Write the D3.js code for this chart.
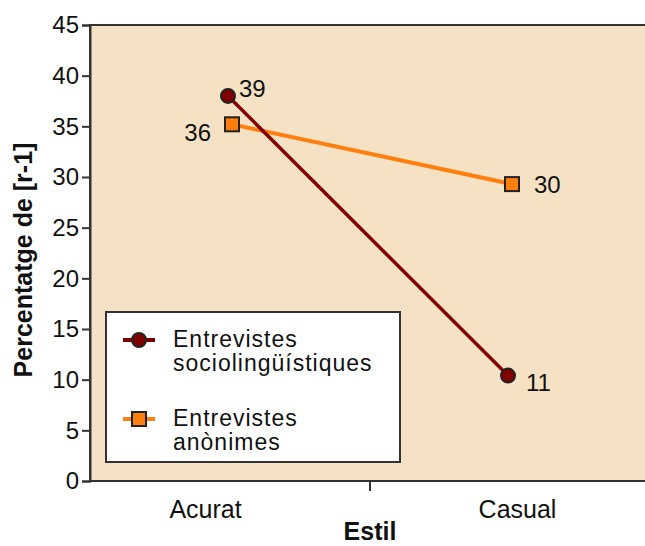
<!DOCTYPE html>
<html>
<head>
<script src="https://d3js.org/d3.v7.min.js"></script>
<style>
  body { margin: 0; background: white; }
  text { font-family: "Liberation Sans", Arial, sans-serif; fill: #111; }
</style>
</head>
<body>
<div id="chart"></div>
<script>
// data
var categories = ["Acurat", "Casual"];
var seriesNames = ["Entrevistes sociolingüístiques", "Entrevistes anònimes"];
var socioValues = [38.0, 10.4];   // plotted position
var socioLabels = ["39", "11"];   // printed label
var anonValues = [35.2, 29.3];
var anonLabels = ["36", "30"];
var yTicks = [0, 5, 10, 15, 20, 25, 30, 35, 40, 45];

var width = 645, height = 546;
var plotL = 90, plotT = 25, plotB = 481, plotR = 660;

var svg = d3.select("#chart").append("svg")
    .attr("width", width)
    .attr("height", height);

// plot background
svg.append("rect")
    .attr("x", plotL).attr("y", plotT)
    .attr("width", plotR - plotL).attr("height", plotB - plotT)
    .attr("fill", "#f5e1c4")
    .attr("stroke", "#333")
    .attr("stroke-width", 2);

var ys = d3.scaleLinear().domain([0, 45]).range([plotB, plotT]);
var mid = (plotL + 650) / 2;
var xs = d3.scalePoint().domain(categories).range([mid - 140, mid + 140]);
var xLab = d3.scalePoint().domain(categories).range([205, 517]);

// y axis
var yAxis = d3.axisLeft(ys).tickValues(yTicks).tickSize(8).tickPadding(3);
var gy = svg.append("g").attr("transform", "translate(" + plotL + ",0)").call(yAxis);
gy.select(".domain").attr("stroke", "#333").attr("stroke-width", 2);
gy.selectAll(".tick line").attr("stroke", "#333").attr("stroke-width", 2);
gy.selectAll(".tick text").style("font-size", "24px").attr("fill", "#111");

// x axis labels
var xAxis = d3.axisBottom(xLab).tickSize(0).tickPadding(19);
var gx = svg.append("g").attr("transform", "translate(0," + plotB + ")").call(xAxis);
gx.select(".domain").remove();
gx.selectAll(".tick text").style("font-size", "25px").attr("fill", "#111");
// tick between the categories
svg.append("line")
    .attr("x1", mid).attr("x2", mid)
    .attr("y1", plotB).attr("y2", plotB + 10)
    .attr("stroke", "#333").attr("stroke-width", 2);

// axis titles
svg.append("text")
    .attr("x", mid).attr("y", 540)
    .attr("text-anchor", "middle")
    .style("font-size", "25px").style("font-weight", "bold")
    .text("Estil");
svg.append("text")
    .attr("transform", "rotate(-90)")
    .attr("x", -260).attr("y", 32)
    .attr("text-anchor", "middle")
    .style("font-size", "25px").style("font-weight", "bold")
    .text("Percentatge de [r-1]");

var off = { circ: -2, sq: 2 };

// anonymous series (orange, squares)
var anonPts = categories.map(function (c, i) { return [xs(c) + off.sq, ys(anonValues[i])]; });
svg.append("path")
    .attr("d", d3.line()(anonPts))
    .attr("fill", "none").attr("stroke", "#ff7f0e").attr("stroke-width", 4);

// sociolinguistic series (maroon, circles)
var socioPts = categories.map(function (c, i) { return [xs(c) + off.circ, ys(socioValues[i])]; });
svg.append("path")
    .attr("d", d3.line()(socioPts))
    .attr("fill", "none").attr("stroke", "#800000").attr("stroke-width", 3.5);

svg.selectAll(".sq").data(anonPts).enter().append("rect")
    .attr("x", function (d) { return d[0] - 7; })
    .attr("y", function (d) { return d[1] - 7; })
    .attr("width", 14).attr("height", 14)
    .attr("fill", "#ff7f0e").attr("stroke", "#222").attr("stroke-width", 2);

svg.selectAll(".circ").data(socioPts).enter().append("circle")
    .attr("cx", function (d) { return d[0]; })
    .attr("cy", function (d) { return d[1]; })
    .attr("r", 7)
    .attr("fill", "#800000").attr("stroke", "#222").attr("stroke-width", 2);

// value labels, placed to avoid the lines
function label(pt, txt, dx, dy, anchor) {
    svg.append("text")
        .attr("x", pt[0] + dx).attr("y", pt[1] + dy)
        .attr("dy", "0.35em")
        .attr("text-anchor", anchor)
        .style("font-size", "24px")
        .text(txt);
}
label(socioPts[0], socioLabels[0], 11, -7, "start");
label(socioPts[1], socioLabels[1], 18, 7, "start");
label(anonPts[0], anonLabels[0], -21, 8, "end");
label(anonPts[1], anonLabels[1], 22, 1, "start");

// legend
var lg = svg.append("g");
lg.append("rect")
    .attr("x", 106).attr("y", 312).attr("width", 294).attr("height", 150)
    .attr("fill", "white").attr("stroke", "#333").attr("stroke-width", 2);

var legendItems = [
    { lines: ["Entrevistes", "sociolingüístiques"], color: "#800000", shape: "circle", y: 340 },
    { lines: ["Entrevistes", "anònimes"], color: "#ff7f0e", shape: "square", y: 419 }
];
legendItems.forEach(function (it) {
    lg.append("line")
        .attr("x1", 123).attr("x2", 155).attr("y1", it.y).attr("y2", it.y)
        .attr("stroke", it.color).attr("stroke-width", 4);
    if (it.shape == "circle") {
        lg.append("circle").attr("cx", 139).attr("cy", it.y).attr("r", 7)
            .attr("fill", it.color).attr("stroke", "#222").attr("stroke-width", 2);
    } else {
        lg.append("rect").attr("x", 132).attr("y", it.y - 7).attr("width", 14).attr("height", 14)
            .attr("fill", it.color).attr("stroke", "#222").attr("stroke-width", 2);
    }
    var t = lg.append("text").attr("x", 173).attr("y", it.y + 7)
        .style("font-size", "23px").style("letter-spacing", "1px");
    it.lines.forEach(function (s, i) {
        t.append("tspan").attr("x", 173).attr("dy", i == 0 ? 0 : 24).text(s);
    });
});
</script>
</body>
</html>
